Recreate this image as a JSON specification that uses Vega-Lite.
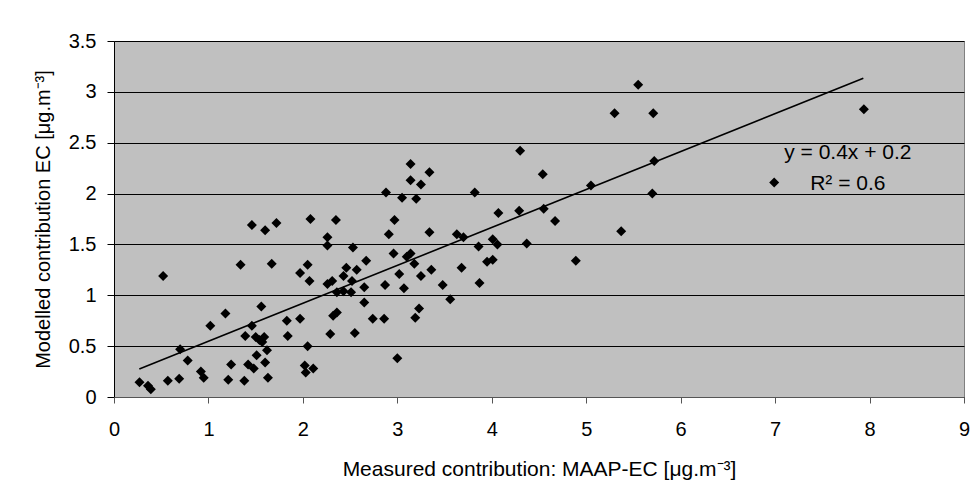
{
  "$schema": "https://vega.github.io/schema/vega-lite/v6.json",
  "width": 850,
  "height": 356,
  "autosize": {"type": "none"},
  "padding": {"left": 114, "top": 41, "right": 7, "bottom": 96},
  "background": "white",
  "config": {
    "view": {"fill": "#C0C0C0", "stroke": "#808080", "strokeWidth": 1},
    "font": "Liberation Sans"
  },
  "datasets": {
    "points": [
      {"x": 0.27, "y": 0.145}, {"x": 0.36, "y": 0.11}, {"x": 0.39, "y": 0.075}, {"x": 0.52, "y": 1.19},
      {"x": 0.57, "y": 0.16}, {"x": 0.69, "y": 0.18}, {"x": 0.70, "y": 0.47}, {"x": 0.78, "y": 0.36},
      {"x": 0.92, "y": 0.25}, {"x": 0.95, "y": 0.19}, {"x": 1.02, "y": 0.70}, {"x": 1.18, "y": 0.82},
      {"x": 1.21, "y": 0.17}, {"x": 1.24, "y": 0.32}, {"x": 1.34, "y": 1.30}, {"x": 1.38, "y": 0.16},
      {"x": 1.39, "y": 0.60}, {"x": 1.42, "y": 0.32}, {"x": 1.46, "y": 1.69}, {"x": 1.46, "y": 0.70},
      {"x": 1.48, "y": 0.28}, {"x": 1.51, "y": 0.41}, {"x": 1.50, "y": 0.59}, {"x": 1.56, "y": 0.89},
      {"x": 1.54, "y": 0.56}, {"x": 1.59, "y": 0.59}, {"x": 1.57, "y": 0.54}, {"x": 1.60, "y": 1.64},
      {"x": 1.67, "y": 1.31}, {"x": 1.72, "y": 1.71}, {"x": 1.60, "y": 0.34}, {"x": 1.62, "y": 0.46},
      {"x": 1.63, "y": 0.19}, {"x": 1.83, "y": 0.75}, {"x": 1.84, "y": 0.60},
      {"x": 2.08, "y": 1.75}, {"x": 2.35, "y": 1.74}, {"x": 2.26, "y": 1.57}, {"x": 2.26, "y": 1.49},
      {"x": 2.53, "y": 1.47}, {"x": 2.05, "y": 1.30}, {"x": 1.97, "y": 1.22}, {"x": 2.07, "y": 1.14},
      {"x": 2.26, "y": 1.11}, {"x": 2.31, "y": 1.14}, {"x": 2.43, "y": 1.19}, {"x": 2.46, "y": 1.27},
      {"x": 2.57, "y": 1.25}, {"x": 2.67, "y": 1.34}, {"x": 2.52, "y": 1.14}, {"x": 2.36, "y": 1.03},
      {"x": 2.43, "y": 1.04}, {"x": 2.51, "y": 1.03}, {"x": 2.65, "y": 1.08}, {"x": 2.65, "y": 0.93},
      {"x": 2.32, "y": 0.80}, {"x": 2.36, "y": 0.83}, {"x": 2.29, "y": 0.62}, {"x": 2.55, "y": 0.63},
      {"x": 2.74, "y": 0.77}, {"x": 2.86, "y": 0.77}, {"x": 2.87, "y": 1.10}, {"x": 2.88, "y": 2.01},
      {"x": 2.91, "y": 1.60}, {"x": 2.97, "y": 1.74}, {"x": 2.96, "y": 1.41}, {"x": 3.02, "y": 1.21},
      {"x": 3.07, "y": 1.07}, {"x": 3.05, "y": 1.96}, {"x": 3.14, "y": 2.29}, {"x": 3.14, "y": 2.13},
      {"x": 3.25, "y": 2.09}, {"x": 3.34, "y": 2.21}, {"x": 3.20, "y": 1.95}, {"x": 3.10, "y": 1.38},
      {"x": 3.14, "y": 1.41}, {"x": 3.18, "y": 1.31}, {"x": 3.25, "y": 1.19}, {"x": 3.36, "y": 1.25},
      {"x": 3.34, "y": 1.62}, {"x": 3.23, "y": 0.87}, {"x": 3.19, "y": 0.78}, {"x": 3.00, "y": 0.38},
      {"x": 3.48, "y": 1.10}, {"x": 3.56, "y": 0.96}, {"x": 3.63, "y": 1.60}, {"x": 3.68, "y": 1.27},
      {"x": 1.97, "y": 0.77}, {"x": 2.05, "y": 0.50}, {"x": 2.02, "y": 0.31}, {"x": 2.03, "y": 0.24},
      {"x": 2.11, "y": 0.28},
      {"x": 5.55, "y": 3.07}, {"x": 5.30, "y": 2.79}, {"x": 5.71, "y": 2.79}, {"x": 4.30, "y": 2.42},
      {"x": 4.54, "y": 2.19}, {"x": 3.82, "y": 2.01}, {"x": 5.05, "y": 2.08}, {"x": 5.70, "y": 2.00},
      {"x": 4.07, "y": 1.81}, {"x": 4.29, "y": 1.83}, {"x": 4.55, "y": 1.85}, {"x": 4.67, "y": 1.73},
      {"x": 5.37, "y": 1.63}, {"x": 3.70, "y": 1.57}, {"x": 3.86, "y": 1.48}, {"x": 4.01, "y": 1.55},
      {"x": 4.06, "y": 1.50}, {"x": 4.37, "y": 1.51}, {"x": 3.95, "y": 1.33}, {"x": 4.01, "y": 1.35},
      {"x": 3.87, "y": 1.12}, {"x": 4.89, "y": 1.34}, {"x": 7.94, "y": 2.83}, {"x": 5.72, "y": 2.32},
      {"x": 6.99, "y": 2.11}
    ],
    "trend": [{"x": 0.268, "y": 0.275}, {"x": 7.934, "y": 3.134}],
    "labels": [
      {"x": 7.77, "y": 2.40, "label": "y = 0.4x + 0.2"},
      {"x": 7.77, "y": 2.09, "label": "R² = 0.6"}
    ]
  },
  "layer": [
    {
      "data": {"name": "points"},
      "mark": {"type": "point", "shape": "diamond", "filled": true, "color": "black", "size": 100, "opacity": 1},
      "encoding": {
        "x": {
          "field": "x", "type": "quantitative",
          "scale": {"domain": [0, 9], "nice": false, "zero": false},
          "axis": {
            "title": "Measured contribution: MAAP-EC [μg.m⁻³]",
            "values": [0, 1, 2, 3, 4, 5, 6, 7, 8, 9],
            "format": "~g",
            "grid": false, "zindex": 1,
            "domainColor": "#555555", "tickColor": "#555555", "tickSize": 6,
            "labelFontSize": 20, "labelColor": "black", "labelPadding": 16, "labelFlush": false,
            "titleFontSize": 21, "titleFontWeight": "normal", "titleColor": "black", "titlePadding": 19
          }
        },
        "y": {
          "field": "y", "type": "quantitative",
          "scale": {"domain": [0, 3.5], "nice": false},
          "axis": {
            "title": "Modelled contribution EC [μg.m⁻³]",
            "values": [0, 0.5, 1, 1.5, 2, 2.5, 3, 3.5],
            "format": "~g",
            "grid": true, "gridColor": "black", "gridOpacity": 1, "gridWidth": 1,
            "domainColor": "black", "tickColor": "black", "tickSize": 7,
            "labelFontSize": 20, "labelColor": "black", "labelPadding": 11, "labelFlush": false,
            "titleFontSize": 20, "titleFontWeight": "normal", "titleColor": "black", "titlePadding": 15
          }
        }
      }
    },
    {
      "data": {"name": "trend"},
      "mark": {"type": "line", "color": "black", "strokeWidth": 1.6},
      "encoding": {
        "x": {"field": "x", "type": "quantitative"},
        "y": {"field": "y", "type": "quantitative"}
      }
    },
    {
      "data": {"name": "labels"},
      "mark": {"type": "text", "fontSize": 21, "align": "center", "baseline": "middle", "font": "Liberation Sans", "color": "black"},
      "encoding": {
        "x": {"field": "x", "type": "quantitative"},
        "y": {"field": "y", "type": "quantitative"},
        "text": {"field": "label"}
      }
    }
  ]
}
